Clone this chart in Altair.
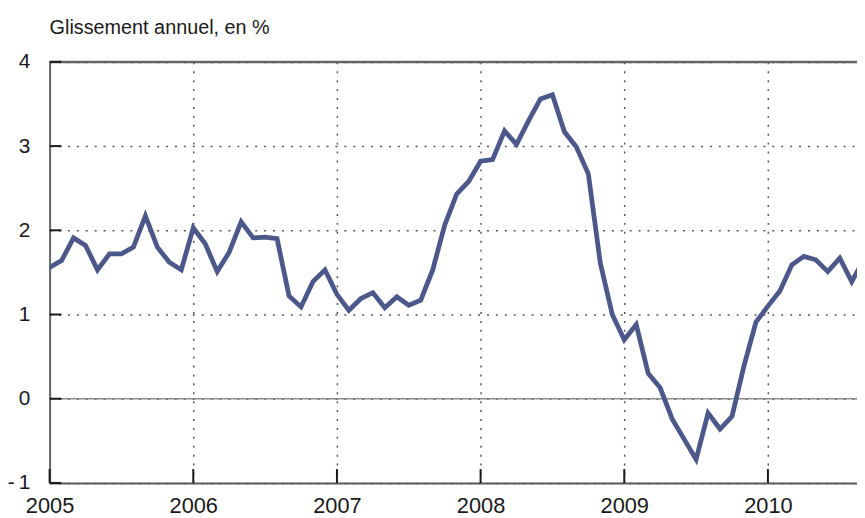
import altair as alt
import pandas as pd

# Monthly year-on-year change (%), Jan 2005 onward
values = [
    1.56, 1.64, 1.91, 1.82, 1.53, 1.72, 1.72, 1.80, 2.17, 1.80, 1.62, 1.53,   # 2005
    2.03, 1.84, 1.51, 1.74, 2.10, 1.91, 1.92, 1.90, 1.22, 1.09, 1.39, 1.53,   # 2006
    1.24, 1.05, 1.19, 1.26, 1.08, 1.21, 1.11, 1.17, 1.53, 2.06, 2.43, 2.58,   # 2007
    2.82, 2.84, 3.18, 3.02, 3.30, 3.56, 3.61, 3.17, 2.99, 2.67, 1.61, 1.00,   # 2008
    0.70, 0.88, 0.30, 0.13, -0.24, -0.48, -0.72, -0.17, -0.36, -0.21, 0.39, 0.91,  # 2009
    1.10, 1.28, 1.59, 1.69, 1.65, 1.51, 1.67, 1.39, 1.65,                     # 2010
]
year_ticks = [2005, 2006, 2007, 2008, 2009, 2010]
y_ticks = [-1, 0, 1, 2, 3, 4]
title_text = "Glissement annuel, en %"

months = pd.date_range("2005-01-01", periods=len(values), freq="MS")
df = pd.DataFrame({"t": months.year + (months.month - 1) / 12.0, "v": values})

LINE = "#4b5889"
AXIS = "#5a5a5a"
LABEL_FONT = "Liberation Sans"
W, H = 815, 425

xscale = alt.Scale(domain=[2005, 2010.62], nice=False, zero=False)
yscale = alt.Scale(domain=[-1, 4], nice=False, zero=False)

xaxis = alt.Axis(values=year_ticks, format="d", title=None, grid=True,
                 gridDash=[2, 7], gridColor="#555", gridWidth=1.5,
                 domainColor=AXIS, domainWidth=2, ticks=False, tickSize=0,
                 labelPadding=13, labelFont=LABEL_FONT, labelFontSize=22,
                 labelColor="#1a1a1a", labelFlush=False)
yaxis = alt.Axis(values=y_ticks, format="d", title=None, grid=True,
                 gridDash=[2, 7], gridColor="#555", gridWidth=1.5,
                 domainColor="#666", domainWidth=2, ticks=False, tickSize=0,
                 labelPadding=20, labelFont=LABEL_FONT, labelFontSize=21,
                 labelColor="#1a1a1a",
                 labelExpr="datum.value < 0 ? '-\u2009' + abs(datum.value) : datum.label")

line = alt.Chart(df).mark_line(color=LINE, strokeWidth=4.8, clip=True).encode(
    x=alt.X("t:Q", scale=xscale, axis=xaxis),
    y=alt.Y("v:Q", scale=yscale, axis=yaxis),
)

zero = alt.Chart(pd.DataFrame({"y": [0]})).mark_rule(color="#8a8a8a", strokeWidth=1.6).encode(
    y=alt.Y("y:Q", scale=yscale))
top = alt.Chart(pd.DataFrame({"y": [4]})).mark_rule(color="#666", strokeWidth=2.5).encode(
    y=alt.Y("y:Q", scale=yscale))
yt = alt.Chart(pd.DataFrame({"y": y_ticks})).mark_rule(color="#1a1a1a", strokeWidth=2).encode(
    y=alt.Y("y:Q", scale=yscale), x=alt.value(0), x2=alt.value(12))
xt = alt.Chart(pd.DataFrame({"x": year_ticks})).mark_rule(color="#1a1a1a", strokeWidth=2).encode(
    x=alt.X("x:Q", scale=xscale), y=alt.value(H - 14), y2=alt.value(H))

chart = alt.layer(zero, top, yt, xt, line).properties(
    width=W, height=H,
    title=alt.TitleParams(title_text, anchor="start", frame="group", baseline="alphabetic",
                          offset=17, dy=20, font="Liberation Sans", fontSize=20,
                          fontWeight="normal", color="#1a1a1a"),
    autosize=alt.AutoSizeParams(type="none"),
    padding={"left": 42, "top": 52, "right": 0, "bottom": 33},
).configure_view(stroke=None)

chart.save("out.html", embed_options={"renderer": "svg", "actions": False})
